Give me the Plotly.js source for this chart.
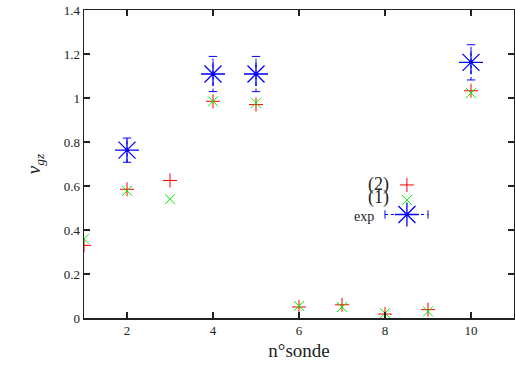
<!DOCTYPE html>
<html><head><meta charset="utf-8">
<script src="https://cdn.plot.ly/plotly-3.0.1.min.js"></script>
<style>html,body{margin:0;padding:0;background:#fff}#chart{width:515px;height:370px}</style>
</head><body><div id="chart"></div>
<script>
// probe numbers
const probes = [1,2,3,4,5,6,7,8,9,10];
// model (2) red +
const model2 = [0.33,0.585,0.625,0.985,0.97,0.05,0.06,0.018,0.038,1.033];
// model (1) green x
const model1 = [0.36,0.578,0.54,0.985,0.978,0.055,0.05,0.022,0.03,1.022];
// experiment (blue asterisks with error bars)
const expProbes = [2,4,5,10];
const expValues = [0.763,1.109,1.109,1.162];
const expErrors = [0.055,0.08,0.08,0.08];
const xTicks = [2,4,6,8,10];

const RED='#ff0000', GREEN='#00ee00', BLUE='#0000ff';

// dotted error bar segments built from the data
const ebX=[], ebY=[], capX=[], capY=[];
expProbes.forEach((p,i)=>{
  ebX.push(p,p,null); ebY.push(expValues[i]-expErrors[i], expValues[i]+expErrors[i], null);
  capX.push(p,p); capY.push(expValues[i]-expErrors[i], expValues[i]+expErrors[i]);
});

const traces = [
  {x:ebX,y:ebY,mode:'lines',line:{color:BLUE,width:1,dash:'dot'},hoverinfo:'skip',showlegend:false},
  {x:capX,y:capY,mode:'markers',marker:{symbol:'line-ew-open',size:6,color:BLUE,line:{color:BLUE,width:1}},showlegend:false},
  {x:expProbes,y:expValues,mode:'markers',marker:{symbol:'asterisk-open',size:20,color:BLUE,line:{color:BLUE,width:1.3}},showlegend:false},
  {x:expProbes,y:expValues,mode:'markers',marker:{symbol:'circle',size:3,color:BLUE},showlegend:false},
  {x:probes,y:model2,mode:'markers',marker:{symbol:'cross-thin-open',size:10,color:RED,line:{color:RED,width:1}},showlegend:false},
  {x:probes,y:model1,mode:'markers',marker:{symbol:'x-thin-open',size:10,color:GREEN,line:{color:GREEN,width:1}},showlegend:false},
  // key samples on overlay axes (0..1 of plot area)
  {x:[0.751],y:[0.432],xaxis:'x2',yaxis:'y2',mode:'markers',marker:{symbol:'cross-thin-open',size:10,color:RED,line:{color:RED,width:1}},showlegend:false},
  {x:[0.751],y:[0.383],xaxis:'x2',yaxis:'y2',mode:'markers',marker:{symbol:'x-thin-open',size:10,color:GREEN,line:{color:GREEN,width:1}},showlegend:false},
  {x:[0.70,0.80],y:[0.336,0.336],xaxis:'x2',yaxis:'y2',mode:'lines',line:{color:BLUE,width:1,dash:'dot'},showlegend:false},
  {x:[0.70,0.80],y:[0.336,0.336],xaxis:'x2',yaxis:'y2',mode:'markers',marker:{symbol:'line-ns-open',size:6,color:BLUE,line:{color:BLUE,width:1}},showlegend:false},
  {x:[0.751],y:[0.336],xaxis:'x2',yaxis:'y2',mode:'markers',marker:{symbol:'asterisk-open',size:20,color:BLUE,line:{color:BLUE,width:1.3}},showlegend:false},
  {x:[0.751],y:[0.336],xaxis:'x2',yaxis:'y2',mode:'markers',marker:{symbol:'circle',size:3,color:BLUE},showlegend:false}
];

const F='"Liberation Serif", "DejaVu Serif", serif';
const layout = {
  width:515,height:370,
  margin:{l:84,r:1,t:10,b:52},
  paper_bgcolor:'#fff',plot_bgcolor:'#fff',
  font:{family:F,size:13,color:'#222'},
  showlegend:false,
  xaxis:{range:[1,11],tickvals:xTicks,ticks:'inside',ticklen:6,tickwidth:1.3,tickcolor:'#222',
    showline:true,linecolor:'#222',linewidth:1.5,mirror:'ticks',showgrid:false,zeroline:false,
    tickfont:{family:F,size:13,color:'#222'},
    title:{text:'n°sonde',font:{family:F,size:19,color:'#222'},standoff:6}},
  yaxis:{range:[0,1.4],dtick:0.2,ticks:'inside',ticklen:6,tickwidth:1.3,tickcolor:'#222',
    showline:true,linecolor:'#222',linewidth:1.5,mirror:'ticks',showgrid:false,zeroline:false,
    tickfont:{family:F,size:13,color:'#222'},
    title:{text:'<i>v</i><sub><i>gz</i></sub>',font:{family:F,size:19,color:'#222'},standoff:18}},
  xaxis2:{overlaying:'x',range:[0,1],visible:false,fixedrange:true},
  yaxis2:{overlaying:'y',range:[0,1],visible:false,fixedrange:true},
  annotations:[
    {xref:'paper',yref:'paper',x:0.713,y:0.434,xanchor:'right',yanchor:'middle',text:'(2)',showarrow:false,font:{family:F,size:18,color:'#222'}},
    {xref:'paper',yref:'paper',x:0.713,y:0.390,xanchor:'right',yanchor:'middle',text:'(1)',showarrow:false,font:{family:F,size:18,color:'#222'}},
    {xref:'paper',yref:'paper',x:0.678,y:0.330,xanchor:'right',yanchor:'middle',text:'exp',showarrow:false,font:{family:F,size:14,color:'#222'}}
  ]
};
Plotly.newPlot('chart',traces,layout,{displayModeBar:false,staticPlot:true});
</script></body></html>
